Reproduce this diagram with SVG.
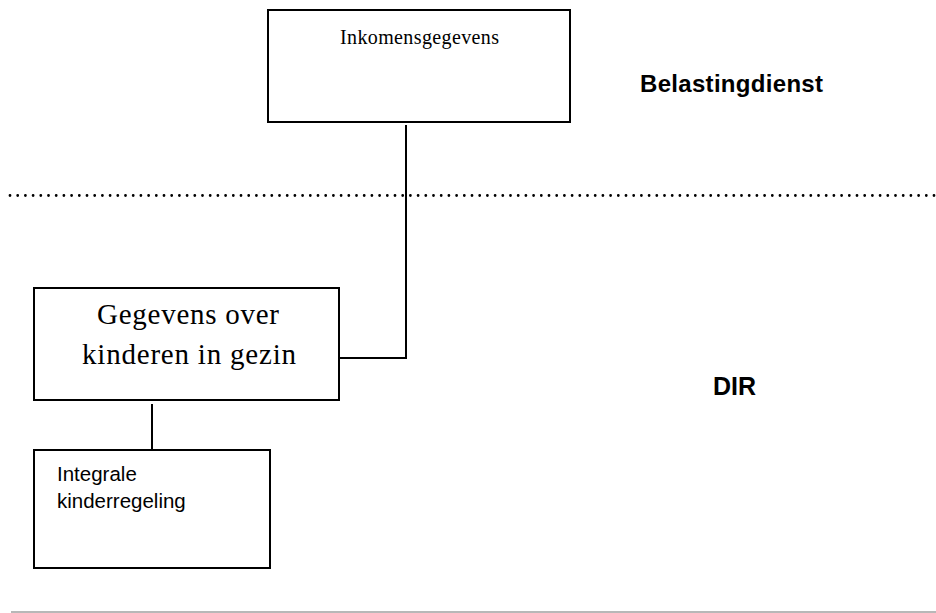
<svg xmlns="http://www.w3.org/2000/svg" width="936" height="613" viewBox="0 0 936 613">
<style>
.box{fill:#fff;stroke:#000;stroke-width:2}
.conn{fill:none;stroke:#000;stroke-width:2}
.serif{font-family:"Liberation Serif","Times New Roman",serif;fill:#000}
.sans{font-family:"Liberation Sans",Arial,sans-serif;fill:#000}
.label{font-family:"Liberation Sans",Arial,sans-serif;font-weight:bold;fill:#000}
</style>
<rect width="936" height="613" fill="#fff"/>
<line x1="10" y1="195.5" x2="936" y2="195.5" stroke="#000" stroke-width="2.8" stroke-linecap="round" stroke-dasharray="0 7.7"/>
<line x1="11" y1="612" x2="936" y2="612" stroke="#a0a0a0" stroke-width="1.5"/>
<g id="connectors">
<path class="conn" d="M406,125 V358 H339"/>
<path class="conn" d="M152,404 V450"/>
</g>
<g id="node-inkomensgegevens">
<rect class="box" x="268" y="10" width="302" height="112"/>
<text class="serif" x="340" y="44" font-size="20" textLength="159" lengthAdjust="spacing">Inkomensgegevens</text>
</g>
<g id="node-gegevens-kinderen">
<rect class="box" x="34" y="288" width="305" height="112"/>
<text class="serif" x="97" y="324" font-size="29" textLength="182" lengthAdjust="spacing">Gegevens over</text>
<text class="serif" x="82" y="364" font-size="29" textLength="214" lengthAdjust="spacing">kinderen in gezin</text>
</g>
<g id="node-integrale">
<rect class="box" x="34" y="450" width="236" height="118"/>
<text class="sans" x="57" y="481" font-size="20.5">Integrale</text>
<text class="sans" x="57" y="508" font-size="20.5">kinderregeling</text>
</g>
<text class="label" x="640" y="92" font-size="24" textLength="183" lengthAdjust="spacing">Belastingdienst</text>
<text class="label" x="713" y="395" font-size="25">DIR</text>
</svg>
